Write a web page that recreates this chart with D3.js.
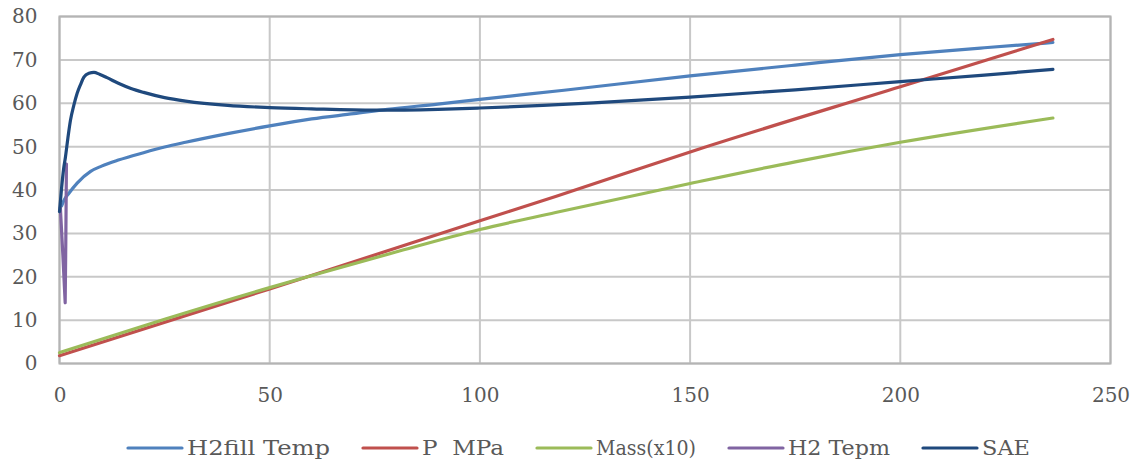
<!DOCTYPE html>
<html>
<head>
<meta charset="utf-8">
<script src="https://cdn.jsdelivr.net/npm/d3@7"></script>
<style>
  html, body { margin: 0; padding: 0; background: #fff; }
  svg { display: block; }
  text { font-family: "DejaVu Serif", serif; fill: #595959; }
</style>
</head>
<body>
<svg id="chart" width="1139" height="463"></svg>
<script>
// ---- data ----
const seriesNames = ["H2fill Temp", "P  MPa", "Mass(x10)", "H2 Tepm", "SAE"];
const xTicks = [0, 50, 100, 150, 200, 250];
const yTicks = [0, 10, 20, 30, 40, 50, 60, 70, 80];

const h2fillX = [0.5, 1, 2.2, 4.2, 7.4, 10, 14, 20, 25, 30, 40, 50, 60, 70, 78, 90, 100, 120, 150, 175, 200, 220, 236.3];
const h2fillY = [36.3, 37.5, 39.2, 41.6, 44.3, 45.5, 46.9, 48.6, 49.9, 51.0, 53.0, 54.8, 56.4, 57.6, 58.6, 59.8, 60.9, 63.0, 66.3, 68.8, 71.2, 72.8, 74.0];

const pressX = [0, 50, 59, 100, 118, 152, 200, 236.3];
const pressY = [1.8, 17.2, 20.0, 32.9, 38.5, 49.4, 63.8, 74.7];

const massX = [0, 25, 50, 59, 80, 100, 118, 150, 175, 200, 236.3];
const massY = [2.5, 10.2, 17.5, 20.0, 25.7, 30.9, 34.8, 41.5, 46.5, 51.0, 56.6];

const h2tempX = [0.2, 0.8, 1.35, 1.5, 1.65];
const h2tempY = [36, 25, 14, 28, 46];

const saeX = [0, 0.5, 1.0, 1.4, 2.0, 2.6, 3.4, 4.2, 5, 5.8, 7, 8.2, 9.5, 11.3, 14, 17, 20, 25, 30, 40, 50, 60, 75, 90, 100, 115, 127, 150, 175, 200, 220, 236.3];
const saeY = [35.0, 40.5, 45.0, 47.5, 52.0, 56.0, 59.5, 62.3, 64.3, 66.0, 66.9, 67.1, 66.7, 65.9, 64.6, 63.4, 62.5, 61.3, 60.5, 59.5, 59.0, 58.7, 58.4, 58.6, 58.9, 59.5, 60.1, 61.4, 63.1, 65.0, 66.5, 67.8];

const colors = ["#4F81BD", "#C0504D", "#9BBB59", "#8064A2", "#1F497D"];

const seriesData = [
  [h2fillX, h2fillY],
  [pressX, pressY],
  [massX, massY],
  [h2tempX, h2tempY],
  [saeX, saeY]
].map(([xs, ys], i) => ({
  name: seriesNames[i],
  color: colors[i],
  points: xs.map((x, j) => ({ x, y: ys[j] }))
}));

// ---- layout ----
const svg = d3.select("#chart");
const pLeft = 59.5, pRight = 1110.5, pTop = 16.5, pBottom = 363.5;

const x = d3.scaleLinear().domain([0, 250]).range([pLeft, pRight]);
const y = d3.scaleLinear().domain([0, 80]).range([pBottom, pTop]);

// gridlines
const grid = svg.append("g");
grid.selectAll("line.h").data(yTicks).join("line")
  .attr("x1", pLeft).attr("x2", pRight)
  .attr("y1", d => y(d)).attr("y2", d => y(d))
  .attr("stroke", "#c8c8c8").attr("stroke-width", 2);
grid.selectAll("line.v").data(xTicks).join("line")
  .attr("y1", pTop).attr("y2", pBottom)
  .attr("x1", d => x(d)).attr("x2", d => x(d))
  .attr("stroke", "#c8c8c8").attr("stroke-width", 2);

// plot border
svg.append("rect")
  .attr("x", pLeft).attr("y", pTop)
  .attr("width", pRight - pLeft).attr("height", pBottom - pTop)
  .attr("fill", "none").attr("stroke", "#b4b4b4").attr("stroke-width", 2);

// axes (labels only)
const yAxis = d3.axisLeft(y).tickValues(yTicks).tickSize(0).tickPadding(22);
const gy = svg.append("g").attr("transform", `translate(${pLeft},0)`).call(yAxis);
gy.select(".domain").remove();
gy.selectAll("text").style("font-size", "20px").attr("fill", "#595959")
  .style("font-family", "'DejaVu Serif', serif");

const xAxis = d3.axisBottom(x).tickValues(xTicks).tickSize(0).tickPadding(24);
const gx = svg.append("g").attr("transform", `translate(0,${pBottom})`).call(xAxis);
gx.select(".domain").remove();
gx.selectAll("text").style("font-size", "20px").attr("fill", "#595959")
  .style("font-family", "'DejaVu Serif', serif");

// lines
const smooth = d3.line().x(d => x(d.x)).y(d => y(d.y)).curve(d3.curveMonotoneX);
const straight = d3.line().x(d => x(d.x)).y(d => y(d.y));
const plot = svg.append("g");
seriesData.forEach(s => {
  plot.append("path")
    .datum(s.points)
    .attr("d", s.name === "H2 Tepm" ? straight(s.points) : smooth(s.points))
    .attr("fill", "none")
    .attr("stroke", s.color)
    .attr("stroke-width", 3.2)
    .attr("stroke-linecap", "round")
    .attr("stroke-linejoin", "round");
});

// legend
const legend = svg.append("g");
const legY = 448;
const lineLen = 54, lineGap = 5, itemGap = 33;
const textWidths = [143, 82, 100, 102, 48];
const items = legend.selectAll("g.item").data(seriesData).join("g").attr("class", "item");
items.append("line")
  .attr("x1", 0).attr("x2", lineLen)
  .attr("y1", 0).attr("y2", 0)
  .attr("stroke", d => d.color).attr("stroke-width", 3.2).attr("stroke-linecap", "round");
items.append("text")
  .attr("x", lineLen + lineGap).attr("y", 0).attr("dy", "0.35em")
  .style("font-size", "20px")
  .style("white-space", "pre")
  .attr("xml:space", "preserve")
  .attr("textLength", (d, i) => textWidths[i])
  .attr("lengthAdjust", "spacingAndGlyphs")
  .text(d => d.name);
const widths = textWidths.map(w => lineLen + lineGap + w);
const total = d3.sum(widths) + itemGap * (widths.length - 1);
let cx = 579 - total / 2;
items.attr("transform", (d, i) => {
  const t = `translate(${cx},${legY})`;
  cx += widths[i] + itemGap;
  return t;
});
</script>
</body>
</html>
